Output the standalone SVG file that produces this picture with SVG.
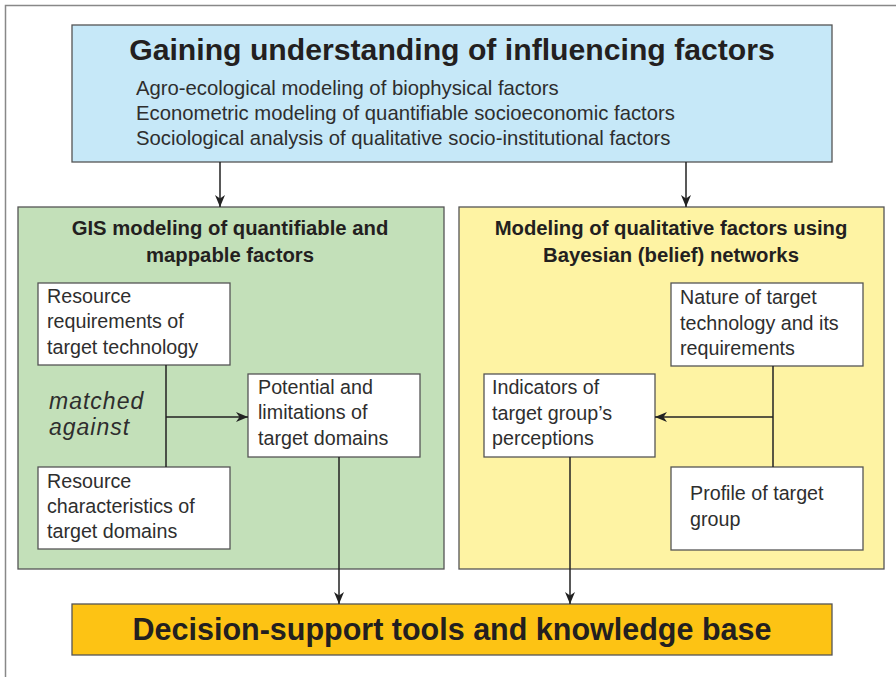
<svg xmlns="http://www.w3.org/2000/svg" width="896" height="677" viewBox="0 0 896 677">
<defs>
<marker id="ah" viewBox="0 0 12 10" refX="12" refY="5" markerWidth="12" markerHeight="10" markerUnits="userSpaceOnUse" orient="auto">
<path d="M0,0 L12,5 L0,10 L3.5,5 Z" fill="#222"/>
</marker>
<style>
.box{stroke:#555;stroke-width:1.3}
.white{fill:#fff;stroke:#555;stroke-width:1.3}
.t{font-family:"Liberation Sans",Arial,sans-serif;fill:#2e2e2e}
.body{font-size:19.7px}
.hb{font-weight:bold;fill:#231f20}
.conn{stroke:#222;stroke-width:1.5;fill:none}
</style>
</defs>
<rect x="0" y="0" width="896" height="677" fill="#fff"/>
<rect x="5.5" y="5.5" width="900" height="700" fill="none" stroke="#888" stroke-width="1.5"/>

<g id="top">
<rect class="box" x="72" y="25" width="760" height="137" fill="#c6e8f8"/>
<text class="t hb" x="452" y="60" font-size="30.2" text-anchor="middle">Gaining understanding of influencing factors</text>
<text class="t" x="136" y="95" font-size="20.3">Agro-ecological modeling of biophysical factors</text>
<text class="t" x="136" y="120" font-size="20.3">Econometric modeling of quantifiable socioeconomic factors</text>
<text class="t" x="136" y="145" font-size="20.3">Sociological analysis of qualitative socio-institutional factors</text>
</g>

<g id="gis">
<rect class="box" x="18" y="207" width="426" height="362" fill="#c3e0b9"/>
<text class="t hb" x="230" y="235" font-size="20.3" text-anchor="middle">GIS modeling of quantifiable and</text>
<text class="t hb" x="230" y="262" font-size="20.3" text-anchor="middle">mappable factors</text>
</g>

<g id="bayes">
<rect class="box" x="459" y="207" width="425" height="362" fill="#fef3a3"/>
<text class="t hb" x="671" y="235" font-size="20.3" text-anchor="middle">Modeling of qualitative factors using</text>
<text class="t hb" x="671" y="262" font-size="20.3" text-anchor="middle">Bayesian (belief) networks</text>
</g>

<g id="resreq">
<rect class="white" x="38" y="283" width="192" height="82"/>
<text class="t body" x="47" y="303">Resource</text>
<text class="t body" x="47" y="328">requirements of</text>
<text class="t body" x="47" y="354">target technology</text>
</g>

<g id="matched">
<text class="t" x="49" y="409" font-size="23" font-style="italic" letter-spacing="1">matched</text>
<text class="t" x="49" y="435" font-size="23" font-style="italic" letter-spacing="1">against</text>
</g>

<g id="potential">
<rect class="white" x="248" y="374" width="172" height="83"/>
<text class="t body" x="258" y="394">Potential and</text>
<text class="t body" x="258" y="419">limitations of</text>
<text class="t body" x="258" y="445">target domains</text>
</g>

<g id="rescha">
<rect class="white" x="38" y="467" width="192" height="82"/>
<text class="t body" x="47" y="488">Resource</text>
<text class="t body" x="47" y="513">characteristics of</text>
<text class="t body" x="47" y="538">target domains</text>
</g>

<g id="nature">
<rect class="white" x="671" y="283" width="192" height="83"/>
<text class="t body" x="680" y="304">Nature of target</text>
<text class="t body" x="680" y="330">technology and its</text>
<text class="t body" x="680" y="355">requirements</text>
</g>

<g id="indicators">
<rect class="white" x="484" y="374" width="171" height="83"/>
<text class="t body" x="492" y="394">Indicators of</text>
<text class="t body" x="492" y="420">target group’s</text>
<text class="t body" x="492" y="445">perceptions</text>
</g>

<g id="profile">
<rect class="white" x="671" y="467" width="192" height="83"/>
<text class="t body" x="690" y="500">Profile of target</text>
<text class="t body" x="690" y="526">group</text>
</g>

<g id="decision">
<rect class="box" x="72" y="604" width="760" height="51" fill="#fdc314"/>
<text class="t hb" x="452" y="640" font-size="30.5" text-anchor="middle">Decision-support tools and knowledge base</text>
</g>

<g id="connectors">
<line class="conn" x1="220" y1="162" x2="220" y2="207" marker-end="url(#ah)"/>
<line class="conn" x1="686" y1="162" x2="686" y2="207" marker-end="url(#ah)"/>
<line class="conn" x1="166" y1="365" x2="166" y2="467"/>
<line class="conn" x1="166" y1="417" x2="248" y2="417" marker-end="url(#ah)"/>
<line class="conn" x1="773" y1="366" x2="773" y2="467"/>
<line class="conn" x1="773" y1="417" x2="655" y2="417" marker-end="url(#ah)"/>
<line class="conn" x1="339" y1="457" x2="339" y2="604" marker-end="url(#ah)"/>
<line class="conn" x1="570" y1="457" x2="570" y2="604" marker-end="url(#ah)"/>
</g>
</svg>
